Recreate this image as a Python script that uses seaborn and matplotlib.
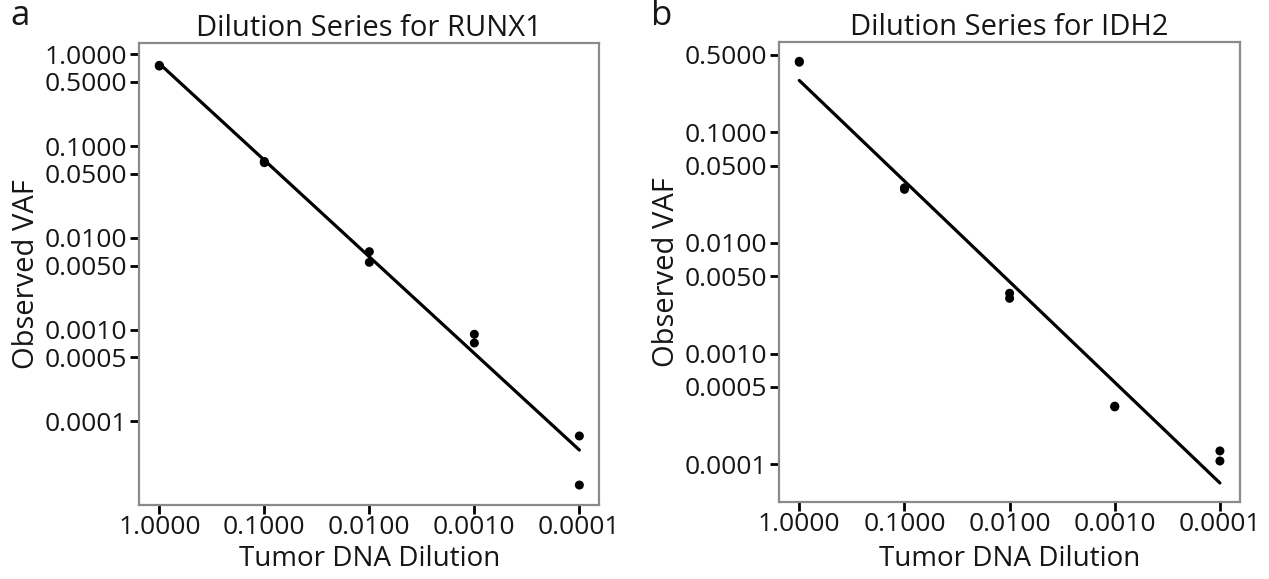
import numpy as np
import pandas as pd
import matplotlib
matplotlib.use("Agg")
import matplotlib.pyplot as plt
import seaborn as sns

# two replicates per dilution level
dilution = [1.0, 1.0, 0.1, 0.1, 0.01, 0.01, 0.001, 0.001, 0.0001, 0.0001]
runx1_vaf = [0.745, 0.758, 0.066, 0.068, 0.00708, 0.00542, 0.000891, 0.000716, 0.0000695, 0.0000203]
idh2_vaf = [0.430, 0.438, 0.0305, 0.0315, 0.00351, 0.00316, 0.000330, 0.000335, 0.000132, 0.000107]

x_ticks = [1.0, 0.1, 0.01, 0.001, 0.0001]
runx1_yticks = [1.0, 0.5, 0.1, 0.05, 0.01, 0.005, 0.001, 0.0005, 0.0001]
idh2_yticks = [0.5, 0.1, 0.05, 0.01, 0.005, 0.001, 0.0005, 0.0001]

sns.set_theme(style="white")
plt.rcParams['font.family'] = ['Open Sans', 'DejaVu Sans']
TXT = "#161616"

fig = plt.figure(figsize=(12.69, 5.79), dpi=100)


def draw_panel(rect, vaf, yticks, ylim, title, letter, letter_x, xlab_y):
    ax = fig.add_axes(rect)
    ax.set_xscale("log")
    ax.set_yscale("log")
    df = pd.DataFrame({"dilution": dilution, "vaf": vaf})
    slope, icpt = np.polyfit(np.log10(df["dilution"]), np.log10(df["vaf"]), 1)
    fit = pd.DataFrame({"dilution": x_ticks})
    fit["vaf"] = 10 ** (icpt + slope * np.log10(fit["dilution"]))
    sns.lineplot(data=fit, x="dilution", y="vaf", color="black", linewidth=2.3, ax=ax)
    sns.scatterplot(data=df, x="dilution", y="vaf", color="black", s=42,
                    edgecolor="none", ax=ax, zorder=3)
    ax.set_xlim(1.55, 6.45e-5)
    ax.set_ylim(*ylim)
    ax.set_xticks(x_ticks, [f"{t:.4f}" for t in x_ticks])
    ax.set_yticks(yticks, [f"{t:.4f}" for t in yticks])
    ax.minorticks_off()
    ax.tick_params(bottom=True, left=True, direction="out", length=6.5, width=2,
                   color="black", labelsize=19, labelcolor=TXT, pad=2)
    ax.tick_params(axis="x", pad=1)
    for sp in ax.spines.values():
        sp.set_color("#8a8a8a")
        sp.set_linewidth(1.6)
    ax.set_xlabel("Tumor DNA Dilution", fontsize=20, color=TXT)
    ax.set_ylabel("Observed VAF", fontsize=21, color=TXT)
    ax.xaxis.set_label_coords(0.5, xlab_y)
    ax.yaxis.set_label_coords(-0.214, 0.5)
    ax.set_title(title, fontsize=21, color=TXT, pad=5)
    fig.text(letter_x, 0.972, letter, fontsize=25, color=TXT, ha="left", va="center")
    return ax


draw_panel([0.1098, 0.1278, 0.3625, 0.7974], runx1_vaf, runx1_yticks,
           (1.23e-5, 1.318), "Dilution Series for RUNX1", "a", 0.008, -0.086)
draw_panel([0.6141, 0.1330, 0.3630, 0.7940], idh2_vaf, idh2_yticks,
           (4.56e-5, 0.651), "Dilution Series for IDH2", "b", 0.513, -0.093)

fig.savefig("out.png", dpi=100)
plt.close(fig)
